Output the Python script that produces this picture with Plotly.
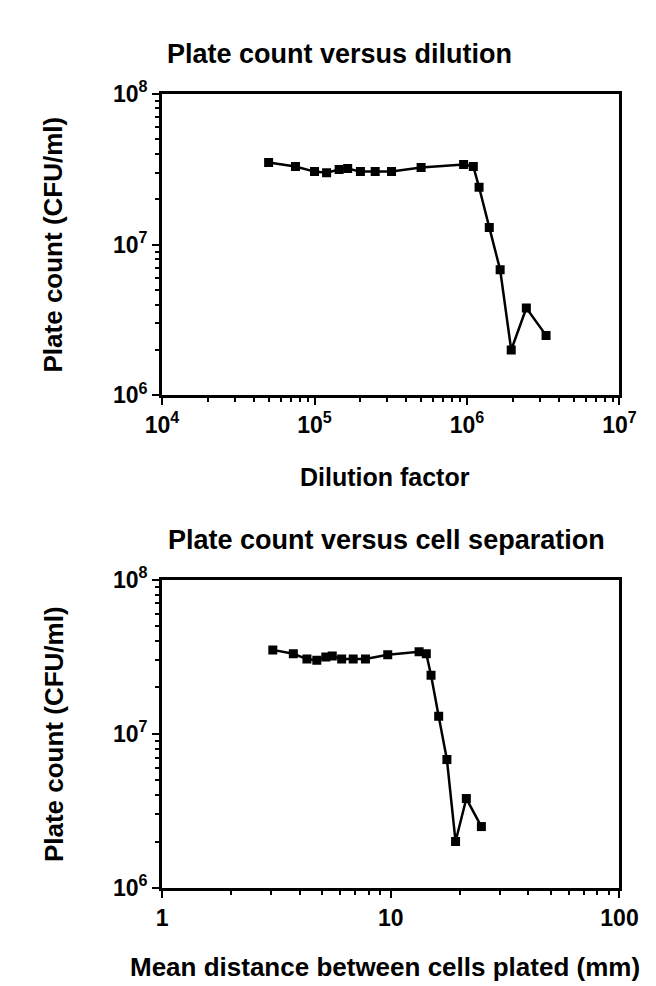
import plotly.graph_objects as go

# ---- data ----
dilution = [5.0e4, 7.5e4, 1.0e5, 1.2e5, 1.45e5, 1.65e5, 2.0e5, 2.5e5, 3.2e5, 5.0e5,
            9.5e5, 1.1e6, 1.2e6, 1.4e6, 1.65e6, 1.95e6, 2.45e6, 3.3e6]
distance_mm = [3.05, 3.75, 4.3, 4.75, 5.2, 5.55, 6.1, 6.85, 7.75, 9.7,
               13.3, 14.3, 15.0, 16.2, 17.6, 19.2, 21.4, 24.9]
plate_count = [3.5e7, 3.3e7, 3.05e7, 3.0e7, 3.15e7, 3.2e7, 3.05e7, 3.05e7, 3.05e7, 3.25e7,
               3.4e7, 3.3e7, 2.4e7, 1.3e7, 6.8e6, 2.0e6, 3.8e6, 2.5e6]

top_title = "Plate count versus dilution"
bottom_title = "Plate count versus cell separation"
x1_title = "Dilution factor"
x2_title = "Mean distance between cells plated (mm)"
y_title = "Plate count (CFU/ml)"

x1_ticks = [1e4, 1e5, 1e6, 1e7]
x1_ticktext = ["10<sup>4</sup>", "10<sup>5</sup>", "10<sup>6</sup>", "10<sup>7</sup>"]
x2_ticks = [1, 10, 100]
x2_ticktext = ["1", "10", "100"]
y_ticks = [1e6, 1e7, 1e8]
y_ticktext = ["10<sup>6</sup>", "10<sup>7</sup>", "10<sup>8</sup>"]

W, H = 656, 986
FAM = "Liberation Sans, Arial, sans-serif"
TICKFONT = dict(family=FAM, size=23, color="black", weight="bold")


def tfont(size):
    return dict(family=FAM, size=size, color="black", weight="bold")


def minor_vals(lo_exp, hi_exp):
    return [m * 10 ** e for e in range(lo_exp, hi_exp) for m in range(2, 10)]


def px_x(p):
    return p / W


def px_y(p):
    return 1 - p / H


fig = go.Figure()
marker = dict(symbol="square", size=9, color="black")
line = dict(color="black", width=2.5)

fig.add_trace(go.Scatter(x=dilution, y=plate_count, mode="lines+markers",
                         line=line, marker=marker, xaxis="x", yaxis="y", showlegend=False))
fig.add_trace(go.Scatter(x=distance_mm, y=plate_count, mode="lines+markers",
                         line=line, marker=marker, xaxis="x2", yaxis="y2", showlegend=False))

common = dict(type="log", showgrid=False, zeroline=False, showline=True, linecolor="black",
              linewidth=3, mirror=True, ticks="outside", tickwidth=2, ticklen=7,
              tickcolor="black", tickfont=TICKFONT, tickmode="array")
minor_style = dict(ticks="outside", ticklen=4, tickwidth=2, tickcolor="black", showgrid=False)

fig.update_layout(
    width=W, height=H, paper_bgcolor="white", plot_bgcolor="white",
    margin=dict(l=0, r=0, t=0, b=0),
    xaxis=dict(common, domain=[px_x(145), px_x(629)], anchor="y",
               range=[4, 7], tickvals=x1_ticks, ticktext=x1_ticktext,
               minor=dict(minor_style, tickvals=minor_vals(4, 7))),
    yaxis=dict(common, domain=[px_y(382), px_y(71)], anchor="x",
               range=[6, 8], tickvals=y_ticks, ticktext=y_ticktext,
               minor=dict(minor_style, tickvals=minor_vals(6, 8))),
    xaxis2=dict(common, domain=[px_x(145), px_x(629)], anchor="y2",
                range=[0, 2], tickvals=x2_ticks, ticktext=x2_ticktext,
                minor=dict(minor_style, tickvals=minor_vals(0, 2))),
    yaxis2=dict(common, domain=[px_y(890), px_y(572)], anchor="x2",
                range=[6, 8], tickvals=y_ticks, ticktext=y_ticktext,
                minor=dict(minor_style, tickvals=minor_vals(6, 8))),
)

annots = [
    dict(text=top_title, x=px_x(333), y=px_y(30), font=tfont(27)),
    dict(text=bottom_title, x=px_x(383), y=px_y(531), font=tfont(27)),
    dict(text=x1_title, x=px_x(381), y=px_y(466), font=tfont(25)),
    dict(text=x2_title, x=px_x(381), y=px_y(972), font=tfont(26)),
    dict(text=y_title, x=px_x(30), y=px_y(226), textangle=-90, font=tfont(26)),
    dict(text=y_title, x=px_x(30), y=px_y(731), textangle=-90, font=tfont(26)),
]
for a in annots:
    fig.add_annotation(xref="paper", yref="paper", showarrow=False,
                       xanchor="center", yanchor="middle", **a)

fig.write_html("out.html")
